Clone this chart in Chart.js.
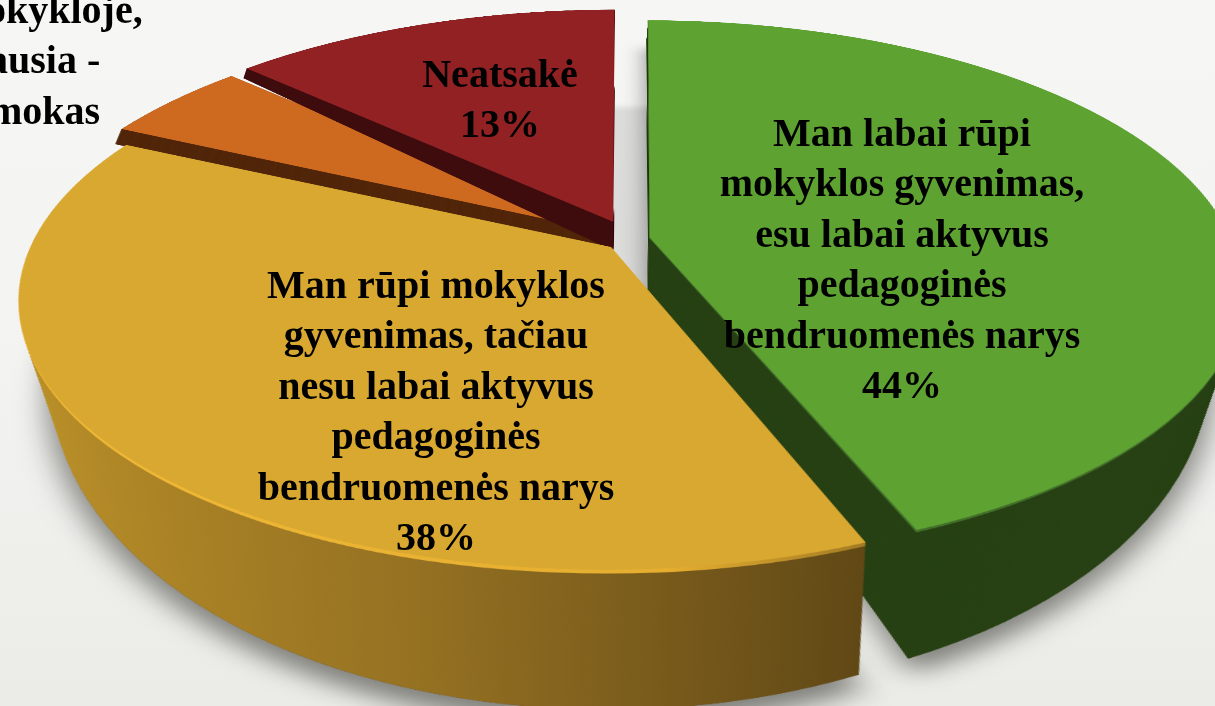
<!DOCTYPE html>
<html>
<head>
<meta charset="utf-8">
<script src="https://cdn.jsdelivr.net/npm/chart.js@4"></script>
<style>
  html, body { margin: 0; width: 1215px; height: 706px; overflow: hidden; }
  body { position: relative; background: linear-gradient(180deg, #f6f6f5 0%, #f3f3f1 50%, #ebebe7 100%); }
  #pie { position: absolute; left: -170px; top: -561px; width: 1600px; height: 1600px;
         transform: perspective(2700px) rotateX(63.5deg); transform-origin: 50% 50%; }
  .lbl { position: absolute; font: bold 40px "Liberation Serif", serif; color: #000; white-space: nowrap;
         line-height: 50px; transform: translateX(-50%); }
  .cut { transform: none; }
</style>
</head>
<body>
<canvas id="pie" width="1600" height="1600"></canvas>
<script>
const categories = [
  'Man labai rūpi mokyklos gyvenimas, esu labai aktyvus pedagoginės bendruomenės narys',
  'Man rūpi mokyklos gyvenimas, tačiau nesu labai aktyvus pedagoginės bendruomenės narys',
  'Kita',
  'Neatsakė'
];
const values = [44, 38, 5, 13];
const topColors = ['#5ea332', '#d9a830', '#ce6a20', '#912123'];
const wallColors = ['#274114', null, '#53280c', '#3f0c0d'];
const explode = [80, 104, 110, 170];
const depthBase = [127, 127, 40, 68];
const depthSlope = [0.10, 0.10, 0, 0.09];
const depthNarrow = [0.10, 0.10, 0, 0];

// slices are painted back to front
const paintOrder = [2, 3, 0, 1];

const labelLines = [
  ['Man labai rūpi', 'mokyklos gyvenimas,', 'esu labai aktyvus', 'pedagoginės', 'bendruomenės narys', values[0] + '%'],
  ['Man rūpi mokyklos', 'gyvenimas, tačiau', 'nesu labai aktyvus', 'pedagoginės', 'bendruomenės narys', values[1] + '%'],
  ['Neatsakė', values[3] + '%']
];
const labelSpots = [[902, 108], [436, 260], [500, 49]];
const cutLines = ['okykloje,', 'ausia -', 'mokas'];
const cutLeft = [-14, -12, -11];

const STEPS = 200;

const extrude = {
  id: 'extrude',
  beforeDatasetDraw() { return false; },
  afterDatasetsDraw(chart) {
    const ctx = chart.ctx;
    const arcs = chart.getDatasetMeta(0).data;
    const cx = arcs[0].x, cy = arcs[0].y;
    const r = arcs[0].outerRadius;

    const yellowSide = ctx.createLinearGradient(cx - r, 0, cx + r * 0.45, 0);
    yellowSide.addColorStop(0, '#bd9229');
    yellowSide.addColorStop(0.5, '#957122');
    yellowSide.addColorStop(1, '#5a4314');
    const yellowRim = ctx.createLinearGradient(cx - r, 0, cx + r * 0.45, 0);
    yellowRim.addColorStop(0, '#f3bb38');
    yellowRim.addColorStop(0.75, '#e6ae30');
    yellowRim.addColorStop(1, '#8f6c20');

    const layer = (arc, i, t, fill) => {
      const saved = arc.options;
      arc.options = { ...saved, backgroundColor: fill };
      ctx.save();
      ctx.translate(cx, cy + depthBase[i] * t);
      ctx.scale(1 - depthNarrow[i] * t, 1 + depthSlope[i] * t);
      ctx.translate(-cx, -cy);
      arc.draw(ctx);
      ctx.restore();
      arc.options = saved;
    };

    // grey shade seen in the gap behind the pulled out slices
    ctx.save();
    ctx.filter = 'blur(7px)';
    ctx.fillStyle = '#dcdcdb';
    ctx.fillRect(cx - 45, cy - 328, 90, 450);
    ctx.restore();

    // soft shadow on the ground under the front slices
    ctx.save();
    ctx.shadowColor = 'rgba(60,60,55,0.6)';
    ctx.shadowBlur = 26;
    ctx.shadowOffsetY = 20;
    layer(arcs[0], 0, 1, wallColors[0]);
    layer(arcs[1], 1, 1, '#5a4314');
    ctx.restore();

    paintOrder.forEach(i => {
      const arc = arcs[i];
      for (let s = STEPS; s > 0; s--) {
        const t = s / STEPS;
        let fill = wallColors[i];
        if (i === 1) fill = t < 0.035 ? yellowRim : yellowSide;
        if (i === 0 && t < 0.025) fill = '#43702a';
        layer(arc, i, t, fill);
      }
      arc.draw(ctx);
    });
  }
};

new Chart(document.getElementById('pie').getContext('2d'), {
  type: 'pie',
  data: {
    labels: categories,
    datasets: [{
      data: values,
      backgroundColor: topColors,
      borderWidth: 0,
      offset: explode,
      radius: 569
    }]
  },
  options: {
    responsive: false,
    animation: false,
    rotation: 0,
    plugins: { legend: { display: false }, tooltip: { enabled: false } }
  },
  plugins: [extrude]
});

labelLines.forEach((lines, k) => {
  lines.forEach((line, n) => {
    const d = document.createElement('div');
    d.className = 'lbl';
    d.textContent = line;
    d.style.left = labelSpots[k][0] + 'px';
    d.style.top = (labelSpots[k][1] + n * 50.4) + 'px';
    document.body.appendChild(d);
  });
});
cutLines.forEach((line, n) => {
  const d = document.createElement('div');
  d.className = 'lbl cut';
  d.textContent = line;
  d.style.left = cutLeft[n] + 'px';
  d.style.top = (-15 + n * 50.4) + 'px';
  document.body.appendChild(d);
});
</script>
</body>
</html>
